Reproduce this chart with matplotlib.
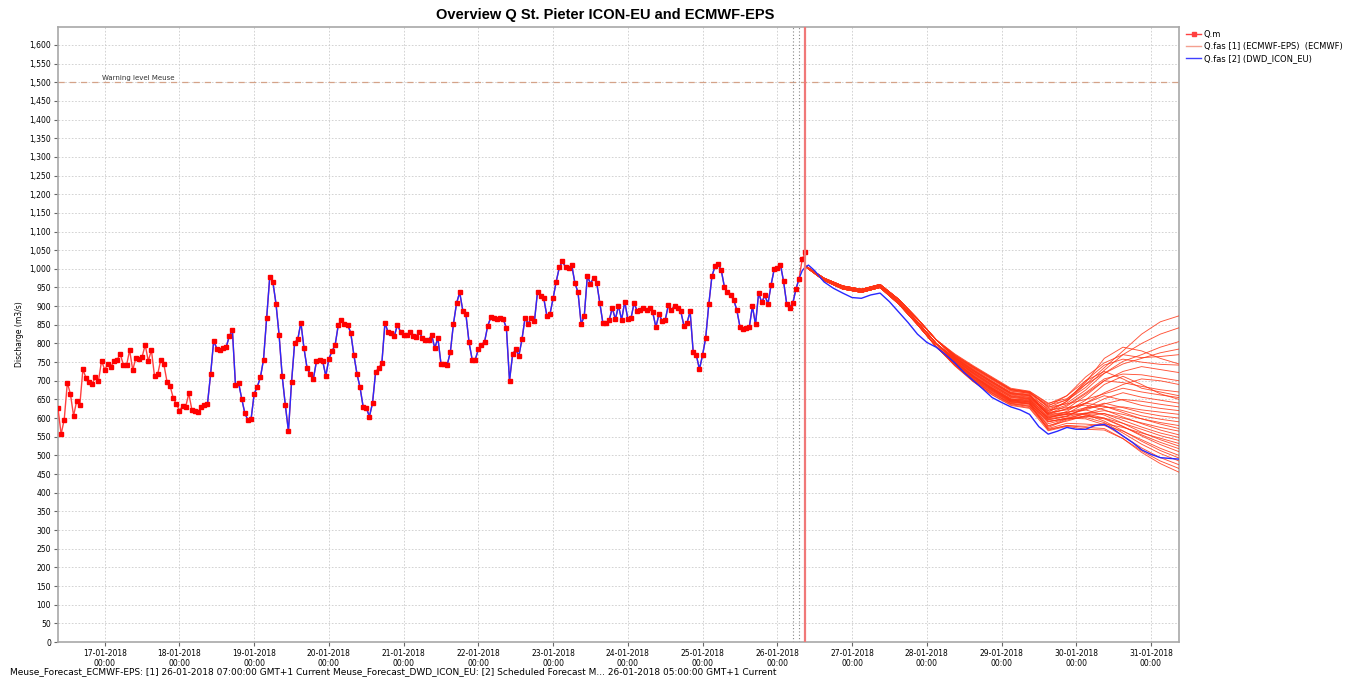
import numpy as np
import pandas as pd
import matplotlib
matplotlib.use('Agg')
import matplotlib.pyplot as plt
import matplotlib.dates as mdates
from matplotlib.lines import Line2D
from matplotlib.ticker import FuncFormatter, MultipleLocator

# observed discharge Q.m, hourly from 16-01-2018 09:00 to 26-01-2018 09:00
obs_start = '2018-01-16 09:00'
q_obs = [626, 557, 596, 695, 664, 606, 646, 634, 731, 707,
         696, 692, 709, 700, 754, 729, 746, 738, 753, 757,
         771, 743, 741, 782, 729, 761, 759, 764, 796, 753,
         782, 712, 717, 756, 744, 698, 686, 654, 638, 620,
         632, 630, 666, 622, 619, 617, 630, 635, 638, 717,
         807, 786, 783, 788, 790, 819, 836, 688, 694, 652,
         613, 594, 597, 665,
         684, 709, 757, 868, 978, 965, 907, 823, 712, 635,
         565, 696, 802, 811, 856, 787, 733, 718, 705, 752,
         756, 753, 713, 759, 779, 796, 849, 863, 852, 850,
         829, 770, 719, 682, 630, 628, 604, 640, 724, 733,
         747, 855, 830, 827, 819, 850, 831, 822, 822, 831,
         819, 818, 832, 814, 810, 810, 822, 788, 814, 745,
         745,
         743, 777, 853, 908, 937, 888, 878, 803, 757, 757,
         784, 796, 805, 847, 870, 868, 865, 867, 865, 841,
         700, 771, 784, 767, 811, 869, 853, 868, 859, 939,
         928, 921, 874, 879, 921, 966, 1004, 1020, 1004, 1003,
         1009, 962, 937, 852, 873, 981, 960, 976, 963, 908,
         854, 854, 862, 895, 865, 901, 863, 912, 865, 867,
         908, 887, 890, 896,
         890, 896, 883, 844, 878, 861, 863, 902, 890, 900,
         896, 886, 848, 855, 886, 776, 768, 731, 769, 815,
         905, 980, 1007, 1013, 996, 952, 937, 929, 917, 889,
         845, 840, 842, 843, 900, 851, 935, 910, 929, 906,
         957, 999, 1001, 1011, 967, 907, 896, 909, 946, 974,
         1026, 1045]

# DWD ICON-EU: follows the observations from index 48 to 238, then forecast
icon_obs_from, icon_obs_to = 48, 238
icon_fc_hours = [8, 9, 10, 12, 15, 18, 21, 24, 27, 30, 33, 36, 39, 42, 45, 48, 51, 54,
                 57, 60, 63, 66, 69, 72, 75, 78, 81, 84, 87, 90, 93, 96, 99, 102, 105,
                 108, 111, 114, 117, 120, 123, 126, 129]
icon_fc = [995, 1005, 1010, 995, 965, 948, 935, 923, 921, 930, 935, 912, 884, 856, 825,
           803, 790, 770, 748, 722, 700, 678, 655, 642, 630, 622, 610, 577, 557, 565,
           575, 570, 570, 580, 583, 570, 552, 535, 515, 503, 494, 492, 490]

# ECMWF-EPS members, hours after 26-01-2018 00:00
ens_hours = [9, 15, 21, 27, 33, 39, 45, 51, 57, 63, 69, 75, 81, 87, 93, 99, 105, 111, 117, 123, 129]
ens_members = [
    [1008, 975, 954, 945, 958, 918, 866, 810, 772, 740, 710, 680, 672, 640, 652, 690, 735, 780, 825, 858, 874],
    [1008, 975, 954, 945, 958, 918, 866, 810, 768, 735, 705, 676, 668, 635, 648, 682, 728, 770, 800, 825, 842],
    [1007, 972, 950, 941, 954, 912, 858, 800, 760, 725, 695, 665, 660, 625, 640, 675, 720, 752, 770, 790, 805],
    [1008, 975, 954, 945, 958, 918, 866, 810, 765, 732, 702, 672, 667, 632, 660, 710, 748, 770, 762, 765, 770],
    [1007, 972, 950, 941, 954, 912, 858, 800, 758, 722, 690, 660, 655, 620, 645, 700, 742, 758, 750, 744, 742],
    [1006, 969, 946, 937, 950, 906, 851, 792, 752, 712, 680, 650, 648, 610, 625, 660, 700, 725, 738, 730, 722],
    [1007, 972, 950, 941, 954, 912, 858, 800, 762, 726, 694, 664, 658, 618, 635, 668, 705, 718, 716, 708, 700],
    [1006, 969, 946, 937, 950, 906, 851, 792, 748, 708, 675, 646, 642, 600, 612, 640, 668, 690, 705, 700, 690],
    [1007, 972, 950, 941, 954, 912, 858, 800, 756, 720, 688, 658, 652, 612, 632, 665, 700, 695, 685, 676, 670],
    [1008, 975, 954, 945, 958, 918, 866, 810, 770, 738, 708, 678, 670, 630, 638, 650, 665, 680, 670, 662, 655],
    [1006, 969, 946, 937, 950, 906, 851, 792, 746, 705, 672, 643, 638, 595, 605, 628, 652, 668, 656, 648, 640],
    [1007, 972, 950, 941, 954, 912, 858, 800, 757, 718, 685, 655, 650, 602, 610, 622, 638, 650, 645, 637, 630],
    [1008, 975, 954, 945, 958, 918, 866, 810, 764, 730, 699, 668, 662, 615, 622, 640, 660, 648, 634, 626, 620],
    [1006, 969, 946, 937, 950, 906, 851, 792, 744, 702, 668, 640, 634, 585, 598, 612, 628, 630, 622, 616, 610],
    [1007, 972, 950, 941, 954, 912, 858, 800, 754, 716, 683, 652, 648, 598, 606, 625, 640, 628, 615, 606, 600],
    [1008, 975, 954, 945, 958, 918, 866, 810, 762, 728, 696, 666, 660, 608, 615, 628, 632, 620, 606, 597, 590],
    [1006, 969, 946, 937, 950, 906, 851, 792, 745, 704, 670, 642, 637, 590, 600, 612, 620, 610, 598, 588, 580],
    [1007, 972, 950, 941, 954, 912, 858, 800, 759, 723, 692, 662, 656, 612, 625, 640, 632, 615, 598, 584, 572],
    [1006, 969, 946, 937, 950, 906, 851, 792, 742, 700, 666, 638, 631, 580, 592, 606, 612, 600, 587, 575, 565],
    [1008, 975, 954, 945, 958, 918, 866, 810, 766, 734, 704, 674, 666, 622, 628, 635, 622, 603, 585, 568, 555],
    [1007, 972, 950, 941, 954, 912, 858, 800, 753, 714, 681, 651, 646, 596, 604, 614, 612, 594, 576, 560, 548],
    [1006, 969, 946, 937, 950, 906, 851, 792, 750, 710, 677, 648, 644, 592, 598, 606, 600, 586, 570, 553, 540],
    [1007, 972, 950, 941, 954, 912, 858, 800, 751, 712, 678, 647, 640, 570, 580, 578, 585, 575, 560, 546, 532],
    [1008, 975, 954, 945, 958, 918, 866, 810, 761, 727, 697, 667, 662, 610, 616, 622, 608, 586, 562, 542, 525],
    [1006, 969, 946, 937, 950, 906, 851, 792, 743, 701, 667, 639, 632, 575, 595, 605, 598, 577, 555, 535, 518],
    [1007, 972, 950, 941, 954, 912, 858, 800, 755, 719, 686, 656, 651, 604, 610, 612, 600, 578, 552, 529, 510],
    [1006, 969, 946, 937, 950, 906, 851, 792, 741, 698, 663, 636, 628, 572, 586, 584, 580, 565, 542, 519, 500],
    [1008, 975, 954, 945, 958, 918, 866, 810, 763, 729, 698, 669, 664, 606, 612, 610, 592, 566, 538, 513, 493],
    [1007, 972, 950, 941, 954, 912, 858, 800, 752, 713, 680, 649, 643, 578, 598, 602, 588, 560, 530, 505, 485],
    [1006, 969, 946, 937, 950, 906, 851, 792, 747, 706, 673, 644, 640, 590, 600, 598, 582, 552, 520, 494, 475],
    [1006, 969, 946, 937, 950, 906, 851, 792, 740, 697, 662, 634, 626, 566, 578, 570, 568, 545, 512, 485, 465],
    [1007, 972, 950, 941, 954, 912, 858, 800, 749, 709, 675, 645, 638, 568, 580, 575, 572, 545, 508, 478, 455],
    [1008, 975, 954, 945, 958, 918, 866, 810, 767, 736, 706, 676, 669, 628, 650, 695, 760, 790, 780, 760, 745],
    [1007, 972, 950, 941, 954, 912, 858, 800, 758, 721, 689, 659, 653, 615, 645, 690, 720, 745, 760, 775, 785],
    [1006, 969, 946, 937, 950, 906, 851, 792, 750, 711, 678, 648, 645, 600, 618, 648, 690, 712, 690, 665, 650],
    [1008, 975, 954, 945, 958, 918, 866, 810, 769, 737, 707, 677, 671, 638, 660, 700, 725, 705, 680, 670, 660],
]

warning_level = 1500
warning_label = 'Warning level Meuse'
t_icon = pd.Timestamp('2018-01-26 05:00')
t_ecmwf = pd.Timestamp('2018-01-26 07:00')
t_now = pd.Timestamp('2018-01-26 09:00')
x_start = pd.Timestamp('2018-01-16 09:00')
x_end = pd.Timestamp('2018-01-31 09:00')

base = pd.Timestamp('2018-01-26 00:00')
t_obs = pd.date_range(obs_start, periods=len(q_obs), freq='h')
t_icon_fc = base + pd.to_timedelta(icon_fc_hours, unit='h')
t_ens = base + pd.to_timedelta(ens_hours, unit='h')

fig = plt.figure(figsize=(13.52, 6.83), dpi=100)
ax = fig.add_axes([58 / 1352, 41 / 683, (1179 - 58) / 1352, (642 - 27) / 683])

red_ens = '#ff3414'
for m in ens_members:
    ax.plot(t_ens, m, color=red_ens, lw=0.65, alpha=0.85, zorder=3)

ax.plot(t_obs, q_obs, color='#ff4040', lw=1.0, zorder=4)
icon_t = list(t_obs[icon_obs_from:icon_obs_to + 1]) + list(t_icon_fc)
icon_v = q_obs[icon_obs_from:icon_obs_to + 1] + icon_fc
ax.plot(icon_t, icon_v, color='#2828ff', lw=1.0, zorder=5)
ax.plot(t_obs, q_obs, ls='none', marker='s', ms=3.1, color='#ff0000', mec='#ff0000', zorder=6)

ax.axhline(warning_level, color='#d4a288', lw=0.9, ls=(0, (5, 4)), zorder=2)
ax.text(mdates.date2num(pd.Timestamp('2018-01-16 23:00')), warning_level + 4, warning_label,
        fontsize=5, color='#333333', va='bottom')
ax.axvline(t_icon, color='#888888', lw=0.8, ls=(0, (1, 2)), zorder=2)
ax.axvline(t_ecmwf, color='#888888', lw=0.8, ls=(0, (1, 2)), zorder=2)
ax.axvline(t_now, color='#f07878', lw=1.6, zorder=7)

ax.set_xlim(x_start, x_end)
ax.set_ylim(0, 1648)
ax.yaxis.set_major_locator(MultipleLocator(50))
ax.yaxis.set_major_formatter(FuncFormatter(lambda v, p: '{:,.0f}'.format(v)))
ax.xaxis.set_major_locator(mdates.DayLocator())
ax.xaxis.set_major_formatter(mdates.DateFormatter('%d-%m-%Y\n%H:%M'))
ax.tick_params(axis='both', labelsize=5.5, length=3, color='#666666', pad=2)
ax.grid(True, color='#cccccc', ls=(0, (2, 2)), lw=0.6)
for s in ax.spines.values():
    s.set_color('#a8a8a8')
    s.set_linewidth(1.2)
ax.set_ylabel('Discharge (m3/s)', fontsize=5.5, labelpad=4)

fig.text(605 / 1352, 1 - 15 / 683, 'Overview Q St. Pieter ICON-EU and ECMWF-EPS',
         ha='center', va='center', fontsize=10.5, fontweight='bold', family='Liberation Sans')
fig.text(10 / 1352, 1 - 672 / 683,
         'Meuse_Forecast_ECMWF-EPS: [1] 26-01-2018 07:00:00 GMT+1 Current Meuse_Forecast_DWD_ICON_EU: '
         '[2] Scheduled Forecast M... 26-01-2018 05:00:00 GMT+1 Current',
         ha='left', va='center', fontsize=6.45)

handles = [Line2D([], [], color='#ff4040', marker='s', ms=3, lw=1),
           Line2D([], [], color='#f4a090', lw=1),
           Line2D([], [], color='#4040ff', lw=1)]
labels = ['Q.m', 'Q.fas [1] (ECMWF-EPS)  (ECMWF)', 'Q.fas [2] (DWD_ICON_EU)']
fig.legend(handles, labels, loc='upper left', bbox_to_anchor=(1183 / 1352, 1 - 27 / 683),
           frameon=False, fontsize=6, handlelength=1.8, labelspacing=0.35, borderaxespad=0,
           handletextpad=0.3)

fig.savefig('out.png', dpi=100, facecolor='white')
